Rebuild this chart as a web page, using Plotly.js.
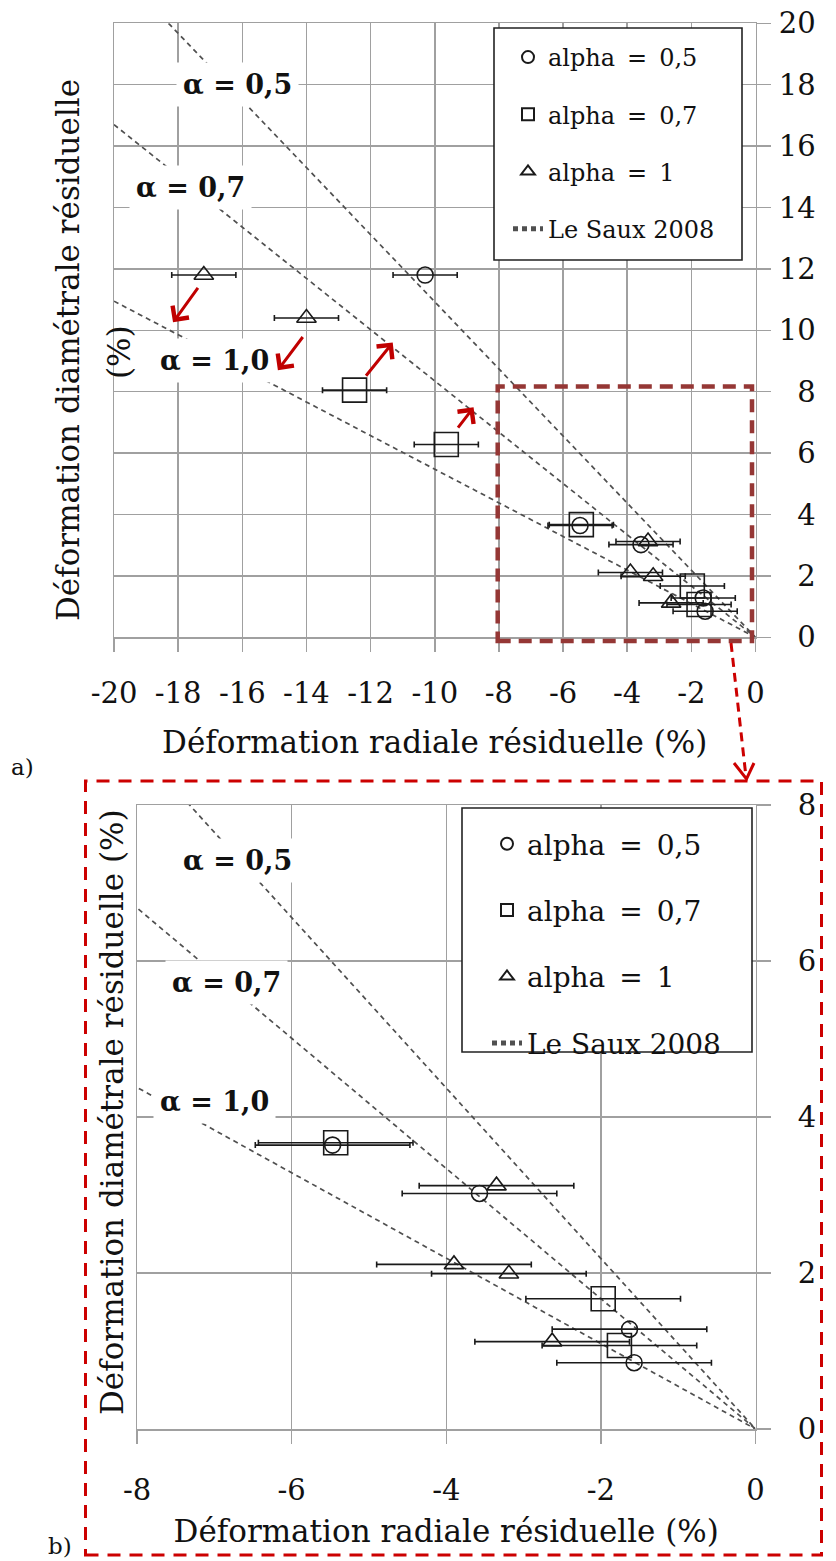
<!DOCTYPE html>
<html>
<head>
<meta charset="utf-8">
<script src="https://cdn.plot.ly/plotly-3.0.1.min.js"></script>
<style>html,body{margin:0;padding:0;background:#fff;}</style>
</head>
<body>
<div id="chart" style="width:836px;height:1561px;"></div>
<script>
// ---------------- data ----------------
const seriesNames = ['alpha\u2002=\u20020,5', 'alpha\u2002=\u20020,7', 'alpha\u2002=\u20021', 'Le Saux 2008'];

// alpha = 0,5 (circles)
const circleX = [-10.3, -5.47, -3.57, -1.63, -1.57];
const circleY = [11.8, 3.64, 3.02, 1.28, 0.85];
const circleErr = [1, 1, 1, 1, 1];

// alpha = 0,7 (squares)
const squareX = [-12.5, -9.64, -5.43, -1.97, -1.76];
const squareY = [8.05, 6.28, 3.67, 1.67, 1.07];
const squareErr = [1, 1, 1, 1, 1];

// alpha = 1 (triangles)
const triX = [-17.2, -14.0, -3.35, -3.90, -3.19, -2.63];
const triY = [11.8, 10.4, 3.12, 2.11, 1.99, 1.12];
const triErr = [1, 1, 1, 1, 1, 1];

// Le Saux 2008 lines (through the origin)
const leSaux05X = [-18.3, 0];
const leSaux05Y = [20, 0];
const leSaux07X = [-20, 0];
const leSaux07Y = [16.7, 0];
const leSaux10X = [-20, 0];
const leSaux10Y = [10.95, 0];

const alphaLabels = ['\u03b1 = 0,5', '\u03b1 = 0,7', '\u03b1 = 1,0'];

// ticks
const topXTickVals = [-20, -18, -16, -14, -12, -10, -8, -6, -4, -2, 0];
const topXTickText = ['-20', '-18', '-16', '-14', '-12', '-10', '-8', '-6', '-4', '-2', '0'];
const topYTickVals = [0, 2, 4, 6, 8, 10, 12, 14, 16, 18, 20];
const topYTickText = ['\u20070', '\u20072', '\u20074', '\u20076', '\u20078', '10', '12', '14', '16', '18', '20'];
const botXTickVals = [-8, -6, -4, -2, 0];
const botXTickText = ['-8', '-6', '-4', '-2', '0'];
const botYTickVals = [0, 2, 4, 6, 8];
const botYTickText = ['0', '2', '4', '6', '8'];

const xTitle = 'Déformation radiale résiduelle (%)';
const yTitleMain = 'Déformation diamétrale résiduelle';
const yTitleUnit = '(%)';

// ---------------- styling helpers ----------------
const W = 836, H = 1561;
const px = v => v / W;
const py = v => 1 - v / H;
const SERIF = 'DejaVu Serif';
const INK = '#111111';
const GRID = '#a0a0a0';

function markerTrace(name, xs, ys, errs, symbol, size, xa, ya, leg, grp, rank) {
  return {
    type: 'scatter', mode: 'markers', name: name, x: xs, y: ys,
    xaxis: xa, yaxis: ya, legend: leg, legendgroup: grp, legendrank: rank,
    marker: {symbol: symbol, size: size, color: '#1a1a1a', line: {color: '#1a1a1a', width: 1.6}},
    error_x: {type: 'data', array: errs, visible: true, color: '#1a1a1a', thickness: 1.6, width: 3},
    hoverinfo: 'x+y'
  };
}
function lineTrace(xs, ys, xa, ya, leg, grp, show) {
  return {
    type: 'scatter', mode: 'lines', name: seriesNames[3], x: xs, y: ys,
    xaxis: xa, yaxis: ya, legend: leg, legendgroup: grp, showlegend: show, legendrank: 4,
    line: {color: '#505050', width: 1.7, dash: '5px,4px'}
  };
}

const traces = [];
[['x', 'y', 'legend', 'a'], ['x2', 'y2', 'legend2', 'b']].forEach(function (p) {
  const xa = p[0], ya = p[1], leg = p[2], s = p[3];
  traces.push(lineTrace(leSaux05X, leSaux05Y, xa, ya, leg, 'ls' + s, true));
  traces.push(lineTrace(leSaux07X, leSaux07Y, xa, ya, leg, 'ls' + s, false));
  traces.push(lineTrace(leSaux10X, leSaux10Y, xa, ya, leg, 'ls' + s, false));
  traces.push(markerTrace(seriesNames[0], circleX, circleY, circleErr, 'circle-open', 16, xa, ya, leg, 'c' + s, 1));
  traces.push(markerTrace(seriesNames[1], squareX, squareY, squareErr, 'square-open', 24, xa, ya, leg, 'q' + s, 2));
  traces.push(markerTrace(seriesNames[2], triX, triY, triErr, 'triangle-up-open', 17, xa, ya, leg, 't' + s, 3));
});

function axisCommon() {
  return {
    ticks: 'outside', tickwidth: 1.5, tickcolor: GRID,
    showgrid: true, gridcolor: GRID, gridwidth: 1.5,
    zeroline: false, showline: true, linecolor: GRID, linewidth: 1.5, mirror: true,
    tickfont: {family: SERIF, size: 29, color: INK},
    tickmode: 'array', fixedrange: true
  };
}

const layout = {
  width: W, height: H,
  margin: {l: 0, r: 0, t: 0, b: 0},
  paper_bgcolor: '#ffffff', plot_bgcolor: '#ffffff',
  showlegend: true,
  xaxis: Object.assign(axisCommon(), {
    domain: [px(114), px(755.5)], range: [-20, 0], anchor: 'y',
    tickvals: topXTickVals, ticktext: topXTickText, ticklen: 13, ticklabelstandoff: 16,
    title: {text: xTitle, font: {family: SERIF, size: 31, color: INK}, standoff: 22}
  }),
  yaxis: Object.assign(axisCommon(), {
    domain: [py(637.3), py(23.3)], range: [0, 20], anchor: 'x', side: 'right',
    tickvals: topYTickVals, ticktext: topYTickText, ticklen: 14, ticklabelstandoff: 2
  }),
  xaxis2: Object.assign(axisCommon(), {
    domain: [px(137), px(755.5)], range: [-8, 0], anchor: 'y2',
    tickvals: botXTickVals, ticktext: botXTickText, ticklen: 13, ticklabelstandoff: 22,
    title: {text: xTitle, font: {family: SERIF, size: 31, color: INK}, standoff: 14}
  }),
  yaxis2: Object.assign(axisCommon(), {
    domain: [py(1429), py(805)], range: [0, 8], anchor: 'x2', side: 'right',
    tickvals: botYTickVals, ticktext: botYTickText, ticklen: 14, ticklabelstandoff: 21
  }),
  legend: {
    x: px(508), y: py(35), xanchor: 'left', yanchor: 'top',
    bgcolor: 'rgba(0,0,0,0)', borderwidth: 0,
    font: {family: SERIF, size: 24, color: INK},
    traceorder: 'grouped', tracegroupgap: 23, itemsizing: 'constant'
  },
  legend2: {
    x: px(487), y: py(819), xanchor: 'left', yanchor: 'top',
    bgcolor: 'rgba(0,0,0,0)', borderwidth: 0,
    font: {family: SERIF, size: 28, color: INK},
    traceorder: 'grouped', tracegroupgap: 27, itemsizing: 'constant'
  },
  shapes: [
    // legend frames
    {type: 'rect', xref: 'paper', yref: 'paper', x0: px(494), x1: px(742), y0: py(260), y1: py(28),
     fillcolor: '#ffffff', line: {color: '#222', width: 1.6}, layer: 'above'},
    {type: 'rect', xref: 'paper', yref: 'paper', x0: px(462), x1: px(752), y0: py(1052), y1: py(808),
     fillcolor: '#ffffff', line: {color: '#222', width: 1.6}, layer: 'above'},
    // zoom frame in a)
    {type: 'rect', xref: 'paper', yref: 'paper', x0: px(497.7), x1: px(752), y0: py(641), y1: py(386.5),
     line: {color: '#953735', width: 4.5, dash: '13px,8px'}, layer: 'above'},
    // frame around b)
    {type: 'rect', xref: 'paper', yref: 'paper', x0: px(85.5), x1: px(821.5), y0: py(1555), y1: py(781),
     line: {color: '#cc0000', width: 3, dash: '13px,9px'}, layer: 'above'},
    // connecting dashed arrow
    {type: 'line', xref: 'paper', yref: 'paper', x0: px(731), y0: py(643), x1: px(746), y1: py(777),
     line: {color: '#cc0000', width: 3, dash: '9px,6px'}, layer: 'above'},
    {type: 'path', xref: 'paper', yref: 'paper',
     path: 'M ' + px(734) + ',' + py(763) + ' L ' + px(746.5) + ',' + py(779) + ' L ' + px(754) + ',' + py(763),
     line: {color: '#cc0000', width: 3}, layer: 'above'}
  ],
  annotations: []
};

const A = layout.annotations;
function textNote(x, y, text, size, angle) {
  return {xref: 'paper', yref: 'paper', x: px(x), y: py(y), xanchor: 'center', yanchor: 'middle',
          text: text, textangle: angle || 0, showarrow: false,
          font: {family: SERIF, size: size, color: INK}};
}
// y titles
A.push(textNote(68, 350, yTitleMain, 31, -90));
A.push(textNote(119, 352, yTitleUnit, 31, -90));
A.push(textNote(112, 1112, yTitleMain + ' ' + yTitleUnit, 31, -90));
// panel letters
A.push(textNote(22, 767, 'a)', 23));
A.push(textNote(60, 1546, 'b)', 23));
// alpha labels
const topLabelPos = [[-16.15, 18.0], [-17.6, 14.65], [-16.88, 9.02]];
const botLabelPos = [[-6.70, 7.29], [-6.84, 5.72], [-7.0, 4.20]];
alphaLabels.forEach(function (t, i) {
  A.push({xref: 'x', yref: 'y', x: topLabelPos[i][0], y: topLabelPos[i][1], text: t, showarrow: false,
          xanchor: 'center', yanchor: 'middle',
          bgcolor: '#ffffff', borderpad: 6, font: {family: SERIF, size: 27, color: INK, weight: 'bold'}});
  A.push({xref: 'x2', yref: 'y2', x: botLabelPos[i][0], y: botLabelPos[i][1], text: t, showarrow: false,
          xanchor: 'center', yanchor: 'middle',
          bgcolor: '#ffffff', borderpad: 6, font: {family: SERIF, size: 27, color: INK, weight: 'bold'}});
});
// red arrows (head, tail)
const redArrows = [
  [-18.16, 10.26, -17.35, 11.43],
  [-14.89, 8.70, -14.08, 9.83],
  [-11.31, 9.60, -12.18, 8.47],
  [-8.79, 7.49, -9.31, 6.78]
];
redArrows.forEach(function (a) {
  A.push({xref: 'x', yref: 'y', axref: 'x', ayref: 'y', x: a[0], y: a[1], ax: a[2], ay: a[3],
          text: '', showarrow: true, arrowhead: 4, arrowsize: 1.3, arrowwidth: 3, arrowcolor: '#c00000', standoff: 0});
});

Plotly.newPlot('chart', traces, layout, {displayModeBar: false, staticPlot: true});
</script>
</body>
</html>
